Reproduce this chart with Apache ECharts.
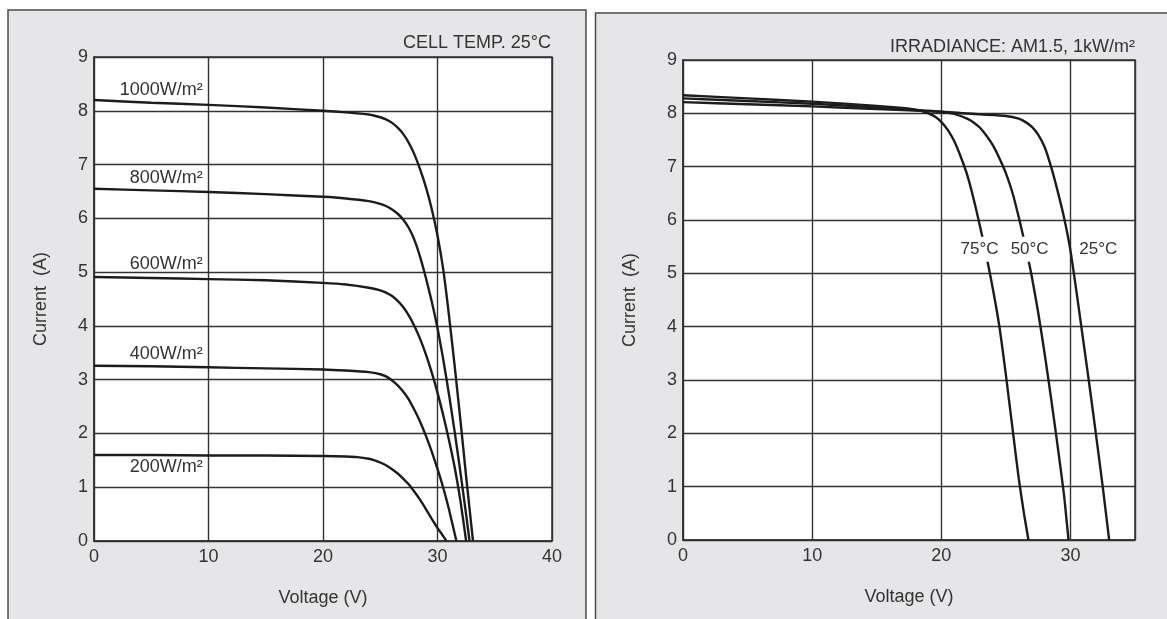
<!DOCTYPE html>
<html><head><meta charset="utf-8">
<script src="https://cdn.jsdelivr.net/npm/echarts@6/dist/echarts.min.js"></script>
<style>html,body{margin:0;padding:0;background:#fff}#c{width:1167px;height:619px}</style>
</head><body><div id="c"></div>
<script>
// ---- Left chart: irradiance curves (Voltage V, Current A), cell temp 25°C
const irrNames = ['1000W/m²', '800W/m²', '600W/m²', '400W/m²', '200W/m²'];
const irr1000 = [[0,8.20],[5,8.15],[10,8.11],[15,8.06],[20,8.00],[22,7.97],[24,7.93],[25,7.88],[25.5,7.84],[26,7.78],[26.5,7.69],[27,7.57],[27.5,7.40],[28,7.18],[28.5,6.90],[29,6.57],[29.5,6.17],[30,5.68],[30.5,5.05],[31,4.2],[31.5,3.25],[32,2.25],[32.5,1.2],[33.1,0]];
const irr800  = [[0,6.55],[5,6.52],[10,6.49],[15,6.45],[20,6.40],[22,6.37],[24,6.32],[25,6.27],[25.5,6.23],[26,6.17],[26.5,6.09],[27,5.98],[27.5,5.82],[28,5.59],[28.5,5.27],[29,4.88],[29.5,4.45],[30,3.96],[30.5,3.38],[31,2.73],[31.5,2.03],[32,1.28],[32.5,0.49],[32.8,0]];
const irr600  = [[0,4.91],[5,4.89],[10,4.87],[15,4.85],[20,4.80],[22,4.77],[24,4.71],[25,4.66],[25.5,4.62],[26,4.56],[26.5,4.47],[27,4.35],[27.5,4.19],[28,3.99],[28.5,3.75],[29,3.46],[29.5,3.13],[30,2.76],[30.5,2.34],[31,1.88],[31.5,1.37],[32,0.75],[32.5,0]];
const irr400  = [[0,3.26],[5,3.25],[10,3.23],[15,3.21],[20,3.19],[22,3.17],[24,3.14],[25,3.10],[25.5,3.06],[26,2.99],[26.5,2.90],[27,2.78],[27.5,2.63],[28,2.43],[28.5,2.21],[29,1.95],[29.5,1.66],[30,1.34],[30.5,0.99],[31,0.59],[31.65,0]];
const irr200  = [[0,1.60],[5,1.60],[10,1.59],[15,1.59],[20,1.58],[22,1.57],[23,1.56],[24,1.53],[24.5,1.50],[25,1.46],[25.5,1.41],[26,1.34],[26.5,1.26],[27,1.16],[27.5,1.05],[28,0.91],[28.5,0.76],[29,0.59],[29.5,0.41],[30,0.24],[30.4,0.12],[30.78,0]];
// label anchors (V, A) — text right end
const irrLabelAt = [[9.5,8.39],[9.5,6.75],[9.5,5.15],[9.5,3.48],[9.5,1.38]];
const leftTitle = 'CELL TEMP. 25°C';

// ---- Right chart: temperature curves, irradiance AM1.5 1kW/m²
const tempNames = ['25°C', '50°C', '75°C'];
const temp25 = [[0,8.21],[5,8.17],[10,8.13],[15,8.08],[20,8.03],[23,7.98],[25,7.95],[26,7.90],[26.5,7.84],[27,7.75],[27.5,7.60],[28,7.37],[28.5,7.00],[29,6.55],[29.5,6.05],[30,5.43],[30.5,4.60],[31,3.73],[31.5,2.85],[32,1.94],[32.5,1.0],[33,0]];
const temp50 = [[0,8.28],[5,8.23],[10,8.18],[15,8.11],[20,8.03],[21,7.99],[21.5,7.95],[22,7.90],[22.5,7.83],[23,7.73],[23.5,7.58],[24,7.40],[24.5,7.16],[25,6.88],[25.5,6.52],[26,6.05],[26.5,5.53],[27,4.95],[27.5,4.27],[28,3.50],[28.5,2.66],[29,1.78],[29.5,0.85],[29.85,0]];
const temp75 = [[0,8.34],[5,8.28],[10,8.22],[15,8.14],[17,8.10],[18,8.07],[18.5,8.04],[19,8.00],[19.5,7.94],[20,7.84],[20.5,7.69],[21,7.48],[21.5,7.19],[22,6.85],[22.5,6.40],[23,5.88],[23.5,5.32],[24,4.70],[24.5,4.00],[25,3.10],[25.5,2.12],[26,1.15],[26.4,0.50],[26.75,0]];
const tempLabelAt = [[32.16,5.45],[26.84,5.45],[22.96,5.45]];
const rightTitle = 'IRRADIANCE: AM1.5, 1kW/m²';

const xLeft = {min: 0, max: 40, interval: 10};
const xRight = {min: 0, max: 35, interval: 10};
const yAxisR = {min: 0, max: 9, interval: 1};
const axisNameY = 'Current  (A)';
const axisNameX = 'Voltage (V)';

const FONT = '"Liberation Sans", Arial, Helvetica, sans-serif';
const TXT = '#333';
const GRIDC = '#333';
const LINEC = '#1c1c1c';

const chart = echarts.init(document.getElementById('c'), null, {renderer: 'canvas'});

function xAx(gi, r) {
  return {
    type: 'value', gridIndex: gi, min: r.min, max: r.max, interval: r.interval, z: 3,
    name: axisNameX, nameLocation: 'middle', nameGap: 48,
    nameTextStyle: {color: TXT, fontSize: 18, fontFamily: FONT},
    axisLine: {show: true, lineStyle: {color: GRIDC, width: 1.5}},
    axisTick: {show: false},
    axisLabel: {color: TXT, fontSize: 18, fontFamily: FONT, margin: 7, showMaxLabel: r.max % r.interval === 0},
    splitLine: {show: true, lineStyle: {color: GRIDC, width: 1.4}}
  };
}
function yAx(gi) {
  return {
    type: 'value', gridIndex: gi, min: yAxisR.min, max: yAxisR.max, interval: yAxisR.interval, z: 3,
    name: axisNameY, nameLocation: 'middle', nameGap: 44, nameRotate: 90,
    nameTextStyle: {color: TXT, fontSize: 18, fontFamily: FONT},
    axisLine: {show: true, lineStyle: {color: GRIDC, width: 1.5}},
    axisTick: {show: false},
    axisLabel: {color: TXT, fontSize: 18, fontFamily: FONT, margin: 6},
    splitLine: {show: true, lineStyle: {color: GRIDC, width: 1.4}}
  };
}
function ser(data, xi) {
  return {
    type: 'line', xAxisIndex: xi, yAxisIndex: xi, data: data, showSymbol: false,
    smooth: 0.2, lineStyle: {color: LINEC, width: 2.4}, silent: true, z: 5
  };
}

const option = {
  animation: false,
  backgroundColor: '#fff',
  grid: [
    {left: 94, top: 57, width: 458, height: 484, show: true, backgroundColor: '#fff', borderColor: GRIDC, borderWidth: 1.5},
    {left: 683, top: 60, width: 452, height: 480, show: true, backgroundColor: '#fff', borderColor: GRIDC, borderWidth: 1.5}
  ],
  xAxis: [xAx(0, xLeft), xAx(1, xRight)],
  yAxis: [yAx(0), yAx(1)],
  series: [
    ser(irr1000, 0), ser(irr800, 0), ser(irr600, 0), ser(irr400, 0), ser(irr200, 0),
    ser(temp25, 1), ser(temp50, 1), ser(temp75, 1)
  ]
};
chart.setOption(option);

const graphics = [
  {type: 'rect', z: -10, silent: true, shape: {x: 8, y: 10, width: 578, height: 640}, style: {fill: '#e6e6e8', stroke: '#4a4a4a', lineWidth: 1.5}},
  {type: 'rect', z: -10, silent: true, shape: {x: 595.5, y: 13, width: 600, height: 640}, style: {fill: '#e6e6e8', stroke: '#4a4a4a', lineWidth: 1.5}},
  {type: 'text', z: 50, x: 551, y: 43, style: {text: leftTitle, fill: TXT, font: '18px ' + FONT, textAlign: 'right', textVerticalAlign: 'middle'}},
  {type: 'text', z: 50, x: 1135, y: 47, style: {text: rightTitle, fill: TXT, font: '18px ' + FONT, textAlign: 'right', textVerticalAlign: 'middle'}}
];
irrNames.forEach((n, i) => {
  const p = chart.convertToPixel({gridIndex: 0}, irrLabelAt[i]);
  graphics.push({type: 'text', z: 50, x: p[0], y: p[1], style: {text: n, fill: TXT, font: '18px ' + FONT, textAlign: 'right', textVerticalAlign: 'middle'}});
});
tempNames.forEach((n, i) => {
  const p = chart.convertToPixel({gridIndex: 1}, tempLabelAt[i]);
  graphics.push({type: 'text', z: 50, x: p[0], y: p[1], style: {text: n, fill: TXT, font: '17px ' + FONT, textAlign: 'center', textVerticalAlign: 'middle', backgroundColor: '#fff', padding: [4, 2]}});
});
chart.setOption({graphic: graphics});
</script></body></html>
